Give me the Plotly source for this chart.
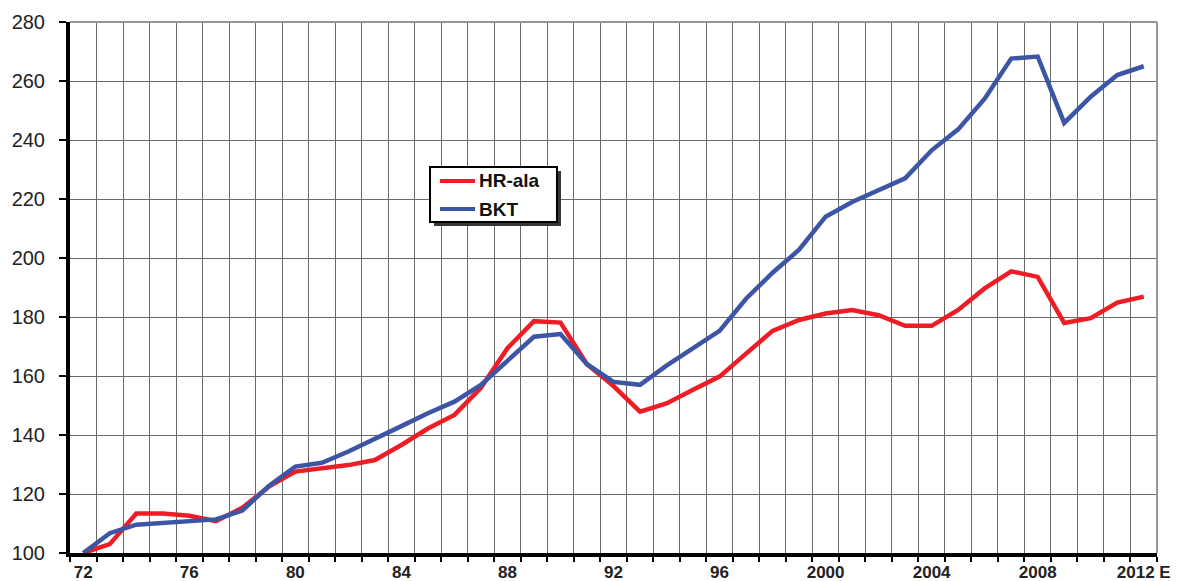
import plotly.graph_objects as go

years = list(range(1972, 2013))
hr_ala = [100, 103, 113.4, 113.4, 112.6, 110.8, 115.3, 122.5, 127.6, 128.6,
          129.8, 131.5, 136.6, 142.2, 146.8, 156.0, 169.4, 178.6, 178.1, 164.0,
          156.6, 147.9, 150.7, 155.3, 159.8, 167.6, 175.3, 179.0, 181.2, 182.4,
          180.6, 177.0, 177.0, 182.4, 189.7, 195.5, 193.6, 178.0, 179.6, 184.9,
          186.9]
bkt = [100, 106.7, 109.6, 110.3, 110.9, 111.4, 114.4, 122.7, 129.3, 130.6,
       134.4, 138.5, 143.0, 147.4, 151.3, 157.0, 165.4, 173.3, 174.2, 164.0,
       158.0, 157.0, 163.5, 169.4, 175.3, 186.2, 195.0, 202.8, 214.0, 219.0,
       222.8, 227.0, 236.5, 243.6, 254.0, 267.6, 268.3, 245.8, 254.7, 262.0,
       265.0]
tick_years = [1972, 1976, 1980, 1984, 1988, 1992, 1996, 2000, 2004, 2008, 2012]
tick_labels = ["72", "76", "80", "84", "88", "92", "96", "2000", "2004", "2008", "2012 E"]
y_ticks = [100, 120, 140, 160, 180, 200, 220, 240, 260, 280]
series_names = ["HR-ala", "BKT"]
series_colors = ["#ee1c25", "#3c56a5"]

FONT = "Liberation Sans, Arial, sans-serif"
GRID = "rgb(105,105,105)"

fig = go.Figure()
for name, vals, col in zip(series_names, [hr_ala, bkt], series_colors):
    fig.add_trace(go.Scatter(x=years, y=vals, mode="lines", name=name,
                             line=dict(color=col, width=4.5)))

# hand-built legend box (with drop shadow) in plot-domain coordinates
shapes = [
    dict(type="line", xref="x domain", yref="y domain", x0=1, x1=1, y0=0, y1=1,
         line=dict(color="rgb(150,150,150)", width=2)),
    dict(type="line", xref="x domain", yref="y domain", x0=0, x1=1, y0=1, y1=1,
         line=dict(color="rgb(150,150,150)", width=2)),
    dict(type="rect", xref="paper", yref="paper", layer="above",
         x0=0.3349, x1=0.4517, y0=0.6158, y1=0.7194,
         fillcolor="rgb(55,55,55)", line=dict(width=0)),
    dict(type="rect", xref="paper", yref="paper", layer="above",
         x0=0.3312, x1=0.4480, y0=0.6234, y1=0.7269,
         fillcolor="white", line=dict(color="black", width=2)),
]
annotations = []
row_y = [0.7006, 0.6478]
for name, col, yy in zip(series_names, series_colors, row_y):
    shapes.append(dict(type="line", xref="paper", yref="paper", layer="above",
                       x0=0.3404, x1=0.3726, y0=yy, y1=yy,
                       line=dict(color=col, width=4)))
    annotations.append(dict(xref="paper", yref="paper", x=0.3745, y=yy,
                            xanchor="left", yanchor="middle", showarrow=False,
                            text=name,
                            font=dict(family=FONT, size=19, color="#111", weight="bold")))

fig.update_layout(
    width=1173, height=573,
    margin=dict(l=62, r=24, t=14, b=28, autoexpand=False),
    paper_bgcolor="white", plot_bgcolor="white",
    font=dict(family=FONT, color="#222"),
    showlegend=False,
    xaxis=dict(
        range=[1971.5, 2012.5], tickmode="array", tickvals=tick_years,
        ticktext=tick_labels, showgrid=False, zeroline=False, automargin=False,
        ticks="outside", ticklen=1, tickcolor="rgba(0,0,0,0)",
        tickfont=dict(family=FONT, size=17, color="#222", weight="bold"),
        showline=True, linecolor="black", linewidth=4,
        minor=dict(tickmode="linear", tick0=1971.5, dtick=1, showgrid=True,
                   gridcolor=GRID, gridwidth=1, ticks="outside", ticklen=5,
                   tickwidth=2, tickcolor="black"),
    ),
    yaxis=dict(
        range=[100, 280], tickmode="array", tickvals=y_ticks, automargin=False,
        showgrid=True, gridcolor=GRID, gridwidth=1, zeroline=False,
        ticks="outside", ticklen=7, tickwidth=2, tickcolor="black",
        ticklabelstandoff=10,
        tickfont=dict(family=FONT, size=20, color="#222"),
        showline=True, linecolor="black", linewidth=4,
    ),
    shapes=shapes,
    annotations=annotations,
)

fig.write_html("out.html")
